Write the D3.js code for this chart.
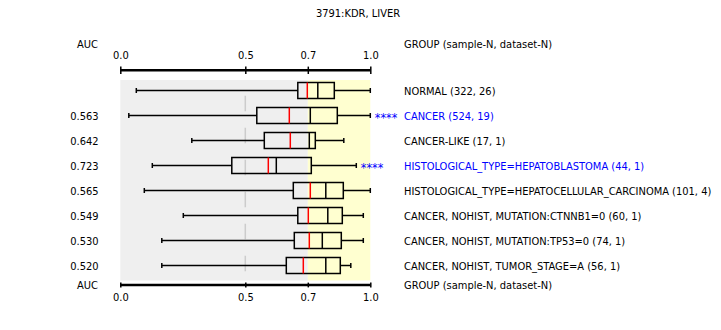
<!DOCTYPE html>
<head>
<meta charset="utf-8">
<title>KDR, LIVER</title>
<style>
	body { margin: 0; background: #fff; }
	text { font-family: 'DejaVu Sans Condensed', 'DejaVu Sans', sans-serif; font-size: 11px; fill: #000; }
	.box rect, .box line { stroke: #000; stroke-width: 1.5px; fill: none; }
	.box line.mean { stroke: #ff0000; }
	.axis path { display: none; }
</style>
</head>
<body>
<script src="https://d3js.org/d3.v7.min.js"></script>
<script>

// groups, top to bottom
var groups = ["NORMAL (322, 26)", "CANCER (524, 19)", "CANCER-LIKE (17, 1)",
	"HISTOLOGICAL_TYPE=HEPATOBLASTOMA (44, 1)", "HISTOLOGICAL_TYPE=HEPATOCELLULAR_CARCINOMA (101, 4)",
	"CANCER, NOHIST, MUTATION:CTNNB1=0 (60, 1)", "CANCER, NOHIST, MUTATION:TP53=0 (74, 1)",
	"CANCER, NOHIST, TUMOR_STAGE=A (56, 1)"];
var auc = ["", "0.563", "0.642", "0.723", "0.565", "0.549", "0.530", "0.520"];
var highlight = [false, true, false, true, false, false, false, false];

// box stats on the relative scale (0 = low end, 1 = high end)
var whiskerLo = [0.064, 0.034, 0.286, 0.128, 0.096, 0.252, 0.166, 0.166];
var q1        = [0.710, 0.546, 0.576, 0.446, 0.692, 0.710, 0.696, 0.664];
var mean      = [0.748, 0.676, 0.680, 0.592, 0.760, 0.752, 0.756, 0.732];
var median    = [0.790, 0.760, 0.756, 0.624, 0.822, 0.830, 0.808, 0.822];
var q3        = [0.856, 0.868, 0.780, 0.764, 0.892, 0.888, 0.884, 0.880];
var whiskerHi = [1.000, 1.000, 0.894, 0.944, 1.000, 0.972, 0.972, 0.922];

var tickPos = [0, 0.5, 0.75, 1];
var tickLabels = ["0.0", "0.5", "0.7", "1.0"];

var width = 721, height = 330;

var svg = d3.select("body").append("svg")
	.attr("width", width)
	.attr("height", height);

var x = d3.scaleLinear().domain([0, 1]).range([120.3, 370.3]);
var y = d3.scaleBand().domain(d3.range(groups.length)).range([78, 278]);

// title
svg.append("text").attr("x", 358).attr("y", 17).attr("text-anchor", "middle")
	.text("3791:KDR, LIVER");

// background: grey below 0.7, yellow above
svg.append("rect").attr("x", x(0)).attr("y", 80).attr("width", x(0.75) - x(0))
	.attr("height", 200.5).attr("fill", "#efefef");
svg.append("rect").attr("x", x(0.75)).attr("y", 80).attr("width", x(1) - x(0.75))
	.attr("height", 200.5).attr("fill", "#ffffd0");

// dashed line at 0.5
svg.append("line")
	.attr("x1", x(0.5)).attr("x2", x(0.5))
	.attr("y1", 95.7).attr("y2", 280)
	.attr("stroke", "#cccccc").attr("stroke-width", 1.5)
	.attr("stroke-dasharray", "15.5,16.5");

// axes
function drawAxis(yPos, axisFn, tick, labelY, headerY) {
	var g = svg.append("g").attr("class", "axis").attr("transform", "translate(0," + yPos + ")")
		.call(axisFn(x).tickValues(tickPos).tickFormat(function(d, i) { return tickLabels[i]; }).tickSize(0));
	g.selectAll(".tick line").attr("y1", -tick).attr("y2", tick)
		.attr("stroke", "#000").attr("stroke-width", 1.5);
	g.selectAll(".tick text").attr("y", labelY).attr("dy", null)
		.style("font-family", "'DejaVu Sans Condensed', 'DejaVu Sans', sans-serif").style("font-size", "11px");
	g.append("line").attr("x1", x(0)).attr("x2", x(1))
		.attr("stroke", "#000").attr("stroke-width", 2.5);
	svg.append("text").attr("x", 77).attr("y", headerY).text("AUC");
	svg.append("text").attr("x", 404).attr("y", headerY).text("GROUP (sample-N, dataset-N)");
}
drawAxis(70.3, d3.axisTop, 3.7, -11.3, 48);
drawAxis(285, d3.axisBottom, 2.4, 15.7, 289);

// boxplots
var rows = svg.selectAll(".box").data(groups).enter().append("g")
	.attr("class", "box")
	.attr("transform", function(d, i) { return "translate(0," + (y(i) + y.bandwidth() / 2) + ")"; });

rows.append("line").attr("x1", function(d, i) { return x(whiskerLo[i]); })
	.attr("x2", function(d, i) { return x(q1[i]); });
rows.append("line").attr("x1", function(d, i) { return x(q3[i]); })
	.attr("x2", function(d, i) { return x(whiskerHi[i]); });
rows.append("line").attr("x1", function(d, i) { return x(whiskerLo[i]); })
	.attr("x2", function(d, i) { return x(whiskerLo[i]); }).attr("y1", -2.5).attr("y2", 2.5);
rows.append("line").attr("x1", function(d, i) { return x(whiskerHi[i]); })
	.attr("x2", function(d, i) { return x(whiskerHi[i]); }).attr("y1", -2.5).attr("y2", 2.5);
rows.append("rect")
	.attr("x", function(d, i) { return x(q1[i]); })
	.attr("width", function(d, i) { return x(q3[i]) - x(q1[i]); })
	.attr("y", -8).attr("height", 16);
rows.append("line").attr("class", "mean")
	.attr("x1", function(d, i) { return x(mean[i]); }).attr("x2", function(d, i) { return x(mean[i]); })
	.attr("y1", -8).attr("y2", 8);
rows.append("line")
	.attr("x1", function(d, i) { return x(median[i]); }).attr("x2", function(d, i) { return x(median[i]); })
	.attr("y1", -8).attr("y2", 8);

// significance stars
rows.filter(function(d, i) { return highlight[i]; }).append("text")
	.attr("x", function(d) { return x(whiskerHi[groups.indexOf(d)]) + 4.5; })
	.attr("y", 6)
	.style("fill", "#0000ff")
	.style("font-size", "12.5px")
	.text("****");

// group labels and AUC values
rows.append("text").attr("x", 404).attr("y", 4)
	.style("fill", function(d, i) { return highlight[i] ? "#0000ff" : "#000"; })
	.text(function(d) { return d; });
rows.append("text").attr("x", 84.5).attr("y", 4).attr("text-anchor", "middle")
	.text(function(d, i) { return auc[i]; });

</script>
</body>
</html>
